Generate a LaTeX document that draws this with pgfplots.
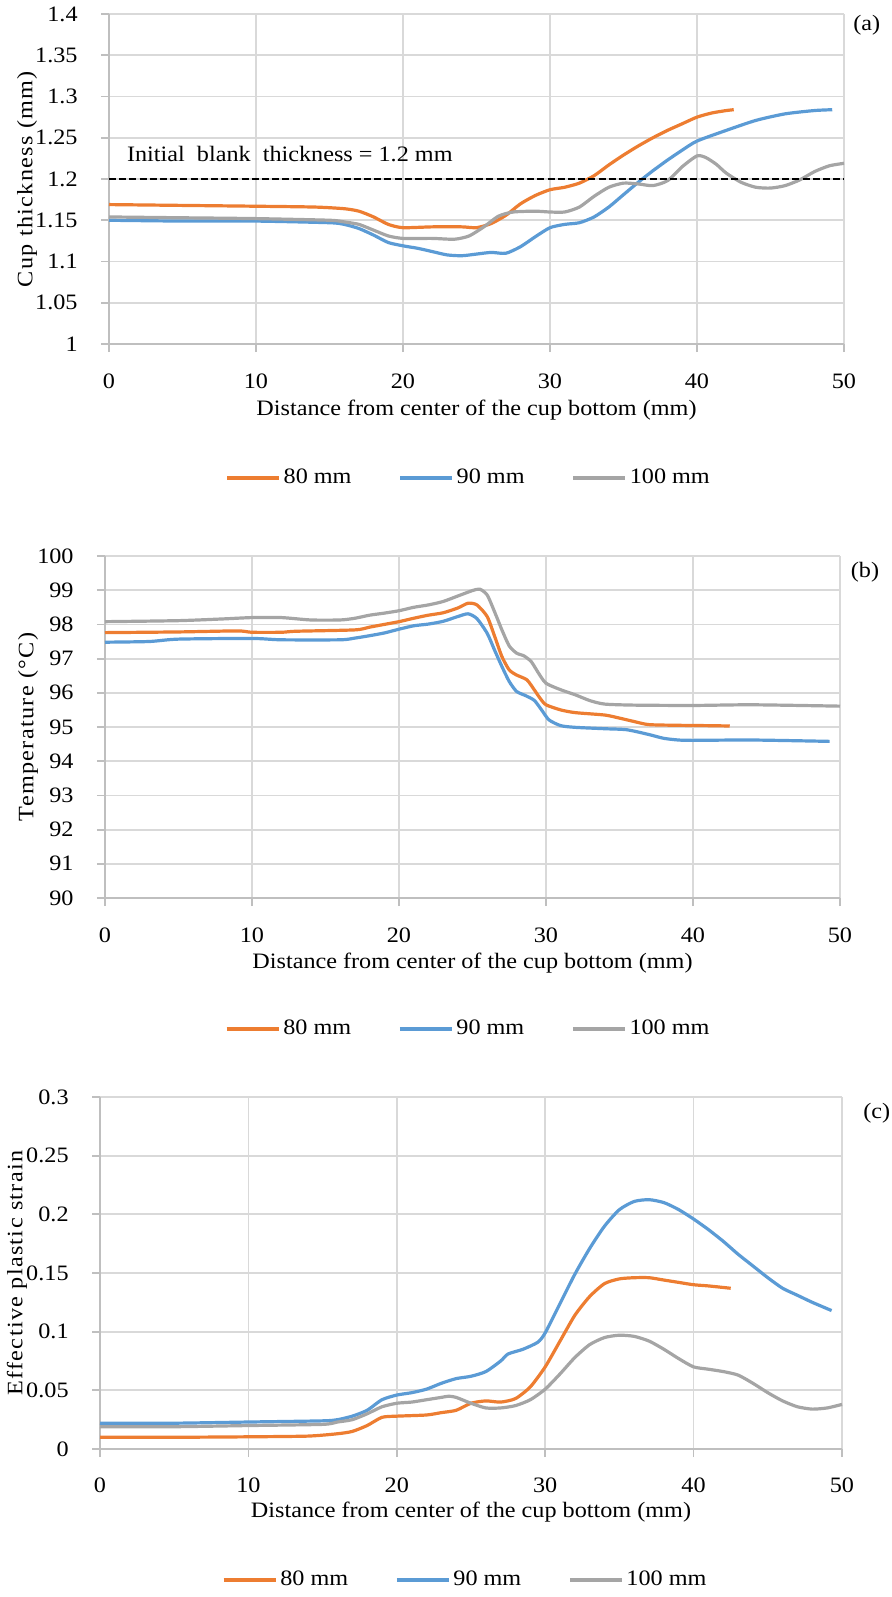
\documentclass[border=0pt]{standalone}
\usepackage{fontspec}
\setmainfont{Liberation Serif}[FakeStretch=1.1]
\newfontfamily\yfont{Liberation Serif}[FakeStretch=1.1, LetterSpace=6]
\usepackage{pgfplots}
\pgfplotsset{compat=1.18}
\definecolor{cO}{HTML}{ED7D31}
\definecolor{cB}{HTML}{5B9BD5}
\definecolor{cG}{HTML}{A5A5A5}
\definecolor{cGrid}{HTML}{D9D9D9}
\definecolor{cAx}{HTML}{BFBFBF}
\newcommand{\ff}{\fontsize{11}{13}\selectfont}
\newcommand{\fy}{\fontsize{11}{13}\yfont}
\pgfplotsset{
  panel/.style={
    scale only axis, anchor=north west, clip=false,
    xmin=0, xmax=50, xtick={0,10,20,30,40,50},
    xticklabels={0,10,20,30,40,50},
    axis x line*=bottom, axis y line*=left,
    x axis line style={-, draw=cAx, line width=1.3pt},
    y axis line style={-, draw=cAx, line width=1.3pt},
    grid=major, major grid style={draw=cGrid, line width=0.9pt},
    tick align=outside, major tick length=4pt,
    major tick style={draw=cAx, line width=0.9pt},
    minor tick num=0,
    tick label style={font=\ff, inner sep=0pt},
    xticklabel style={anchor=center, yshift=-14.5pt},
    yticklabel style={anchor=east, xshift=-11.5pt},
    label style={font=\ff},
    ylabel style={font=\fy},
    xlabel={Distance from center of the cup bottom (mm)},
    legend columns=3,
    legend style={draw=none, fill=none, font=\ff, anchor=center,
      /tikz/every even column/.append style={column sep=22pt},
      nodes={inner sep=1.5pt}},
    legend image code/.code={\draw[##1, line width=1.6pt] (0pt,0pt) -- (26pt,0pt);},
    every axis plot/.append style={line width=1.6pt, smooth, tension=0.4, no markers},
  }
}
\begin{document}
\begin{tikzpicture}
% ---------- (a) ----------
\begin{axis}[panel,
  at={(54.5pt,-7pt)}, width=367.5pt, height=165pt,
  ymin=1, ymax=1.4, ytick={1,1.05,1.1,1.15,1.2,1.25,1.3,1.35,1.4},
  yticklabels={1,1.05,1.1,1.15,1.2,1.25,1.3,1.35,1.4},
  ylabel={Cup thickness (mm)},
  ylabel style={at={(axis description cs:-0.1116,0.5)}, anchor=center},
  xlabel style={at={(axis description cs:0.5,-0.2)}, anchor=center},
  legend style={at={(axis description cs:0.49,-0.406)}},
]
\addplot[cO] coordinates {(0,1.169)(5,1.168)(10,1.167)(14,1.166)(16,1.164)(17,1.161)(18,1.154)(19,1.145)(20,1.141)(22,1.142)(24,1.142)(25,1.141)(26,1.146)(27,1.156)(28,1.170)(29,1.180)(30,1.187)(31,1.190)(32,1.195)(33,1.204)(34,1.217)(35,1.229)(36,1.240)(37,1.250)(38,1.259)(39,1.267)(40,1.275)(41,1.280)(42,1.283)(42.5,1.284)};
\addlegendentry{80 mm}
\addplot[cB] coordinates {(0,1.150)(5,1.149)(10,1.149)(15,1.147)(16,1.145)(17,1.140)(18,1.132)(19,1.123)(20,1.119)(21,1.116)(22,1.112)(23,1.108)(24,1.107)(25,1.109)(26,1.111)(27,1.110)(28,1.118)(29,1.130)(30,1.141)(31,1.145)(32,1.147)(33,1.154)(34,1.166)(35,1.181)(36,1.196)(37,1.210)(38,1.223)(39,1.235)(40,1.246)(42,1.259)(44,1.271)(46,1.279)(48,1.283)(49.2,1.284)};
\addlegendentry{90 mm}
\addplot[cG] coordinates {(0,1.154)(5,1.153)(10,1.152)(15,1.150)(16,1.148)(17,1.145)(18,1.138)(19,1.131)(20,1.128)(22,1.128)(23.5,1.127)(24.5,1.131)(25.5,1.142)(26.5,1.155)(27.5,1.160)(29,1.161)(30,1.160)(31,1.160)(32,1.166)(33,1.179)(34,1.190)(35,1.195)(36,1.194)(37,1.192)(38,1.198)(39,1.215)(40,1.228)(40.6,1.226)(41.3,1.218)(42,1.207)(43,1.196)(44,1.190)(45,1.189)(46,1.192)(47,1.199)(48,1.209)(49,1.216)(50,1.219)};
\addlegendentry{100 mm}
\addplot[black, dashed, line width=1.1pt, sharp plot, dash pattern=on 3.5pt off 1.6pt, forget plot] coordinates {(0,1.2)(50,1.2)};
\node[anchor=west, inner sep=0pt, font=\ff] at (axis cs:1.2,1.2303) {Initial\ \ blank\ \ thickness = 1.2 mm};
\node[font=\ff] at (axis description cs:1.031,0.967) {(a)};
\end{axis}
% ---------- (b) ----------
\begin{axis}[panel,
  at={(52.5pt,-278pt)}, width=367.5pt, height=171pt,
  ymin=90, ymax=100, ytick={90,91,...,100},
  yticklabels={90,91,92,93,94,95,96,97,98,99,100},
  ylabel={Temperature (°C)},
  ylabel style={at={(axis description cs:-0.1048,0.5)}, anchor=center},
  xlabel style={at={(axis description cs:0.5,-0.19)}, anchor=center},
  legend style={at={(axis description cs:0.495,-0.383)}},
]
\addplot[cO] coordinates {(0,97.76)(5,97.78)(9,97.81)(10,97.77)(12,97.77)(13,97.80)(17,97.84)(18,97.92)(19,98.00)(20,98.08)(21,98.18)(22,98.27)(23,98.34)(24,98.48)(24.7,98.62)(25.3,98.57)(26,98.23)(26.5,97.66)(27,97.06)(27.5,96.67)(28,96.52)(28.7,96.38)(29.2,96.09)(29.6,95.84)(30,95.65)(31,95.50)(32,95.42)(34,95.35)(35,95.26)(36,95.16)(37,95.07)(39,95.05)(41,95.04)(42.5,95.03)};
\addlegendentry{80 mm}
\addplot[cB] coordinates {(0,97.48)(3,97.50)(5,97.57)(10,97.59)(12,97.55)(16,97.55)(17,97.60)(18,97.67)(19,97.75)(20,97.86)(21,97.96)(22,98.01)(23,98.09)(24,98.23)(24.7,98.31)(25.3,98.17)(26,97.74)(26.5,97.25)(27,96.77)(27.5,96.33)(28,96.04)(28.6,95.92)(29.2,95.78)(29.7,95.50)(30.2,95.21)(31,95.04)(32,94.99)(34,94.95)(35.5,94.92)(37,94.78)(38,94.67)(39,94.62)(40,94.61)(44,94.62)(49.3,94.58)};
\addlegendentry{90 mm}
\addplot[cG] coordinates {(0,98.08)(5,98.11)(8,98.16)(10,98.20)(12,98.20)(14,98.13)(16,98.13)(17,98.18)(18,98.27)(19,98.33)(20,98.40)(21,98.50)(22,98.57)(23,98.67)(24,98.83)(25,98.99)(25.5,99.03)(26,98.86)(26.5,98.37)(27,97.84)(27.5,97.37)(28,97.16)(28.5,97.08)(29,96.91)(29.5,96.57)(30,96.28)(31,96.09)(32,95.94)(33,95.77)(34,95.67)(36,95.64)(40,95.63)(44,95.65)(50,95.61)};
\addlegendentry{100 mm}
\node[font=\ff] at (axis description cs:1.034,0.953) {(b)};
\end{axis}
% ---------- (c) ----------
\begin{axis}[panel,
  at={(50pt,-548.5pt)}, width=371pt, height=176pt,
  ymin=0, ymax=0.3, ytick={0,0.05,0.1,0.15,0.2,0.25,0.3},
  yticklabels={0,0.05,0.1,0.15,0.2,0.25,0.3},
  ylabel={Effective plastic strain},
  ylabel style={at={(axis description cs:-0.1119,0.5)}, anchor=center},
  xlabel style={at={(axis description cs:0.5,-0.179)}, anchor=center},
  xticklabel style={yshift=0.5pt},
  legend style={at={(axis description cs:0.493,-0.372)}},
]
\addplot[cO] coordinates {(0,0.010)(5,0.010)(10,0.0104)(14,0.011)(16,0.013)(17,0.015)(18,0.020)(19,0.027)(20,0.028)(22,0.029)(23,0.031)(24,0.033)(25,0.039)(26,0.041)(27,0.040)(28,0.043)(29,0.053)(30,0.070)(31,0.092)(32,0.114)(33,0.130)(34,0.141)(35,0.145)(36,0.146)(37,0.146)(38,0.144)(39,0.142)(40,0.140)(41,0.139)(42.5,0.137)};
\addlegendentry{80 mm}
\addplot[cB] coordinates {(0,0.022)(5,0.022)(10,0.023)(15,0.024)(16,0.025)(17,0.028)(18,0.033)(19,0.042)(20,0.046)(21,0.048)(22,0.051)(23,0.056)(24,0.060)(25,0.062)(26,0.066)(27,0.075)(27.5,0.081)(28.5,0.085)(29.5,0.091)(30,0.099)(31,0.124)(32,0.149)(33,0.171)(34,0.190)(35,0.204)(36,0.211)(37,0.2125)(38,0.210)(39,0.204)(40,0.196)(41,0.187)(42,0.177)(43,0.166)(44,0.156)(45,0.146)(46,0.137)(47,0.131)(48,0.125)(49.3,0.118)};
\addlegendentry{90 mm}
\addplot[cG] coordinates {(0,0.019)(5,0.019)(10,0.020)(15,0.021)(16,0.023)(17,0.025)(18,0.030)(19,0.036)(20,0.039)(21,0.040)(22,0.042)(23,0.044)(23.5,0.045)(24,0.044)(25,0.039)(26,0.035)(27,0.035)(28,0.037)(29,0.042)(30,0.051)(31,0.064)(32,0.078)(33,0.089)(34,0.095)(35,0.097)(36,0.096)(37,0.092)(38,0.085)(39,0.077)(40,0.070)(41,0.068)(42,0.066)(43,0.063)(44,0.056)(45,0.048)(46,0.041)(47,0.036)(48,0.034)(49,0.035)(50,0.038)};
\addlegendentry{100 mm}
\node[font=\ff] at (axis description cs:1.047,0.955) {(c)};
\end{axis}
\pgfresetboundingbox
\useasboundingbox (0,0) rectangle (446pt,-798.5pt);
\end{tikzpicture}
\end{document}
